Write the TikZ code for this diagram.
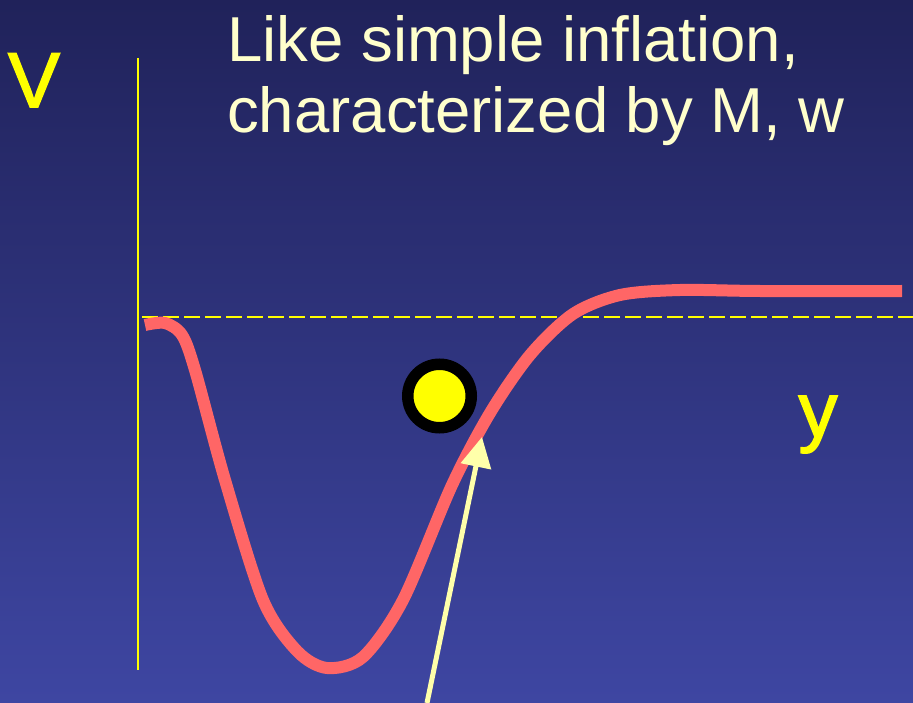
\documentclass[tikz,border=0pt]{standalone}
\usepackage{fontspec}
\setmainfont{Liberation Sans}
\newfontfamily\axislabelfont[FakeBold=2]{Liberation Sans}
\usetikzlibrary{arrows.meta}
\definecolor{bgtop}{HTML}{20225A}
\definecolor{bgbot}{HTML}{3E46A2}
\definecolor{axisyellow}{HTML}{FFFF00}
\definecolor{titleyellow}{HTML}{FFFFCC}
\definecolor{curvered}{HTML}{FF6666}
\definecolor{arrowyellow}{HTML}{FFFFAA}
\tikzset{
  titletext/.style={anchor=base west, inner sep=0pt, text=titleyellow, font=\fontsize{63.5}{71}\selectfont},
  axislabel/.style={anchor=base, inner sep=0pt, text=axisyellow, font=\axislabelfont\fontsize{78}{78}\selectfont},
  axisline/.style={draw=axisyellow, line width=2pt},
  levelline/.style={draw=axisyellow, line width=2pt, dash pattern=on 16pt off 5pt},
  potential/.style={draw=curvered, line width=12pt, line join=round},
  ball/.style={circle, draw=black, fill=axisyellow, line width=11.5pt, minimum size=63.5pt, inner sep=0pt},
  pointer/.style={draw=arrowyellow, line width=5pt, -{Triangle[length=30pt,width=30pt]}}
}
\begin{document}
\begin{tikzpicture}[x=1pt,y=-1pt]
\useasboundingbox (0,0) rectangle (913,703);
\shade[top color=bgtop, bottom color=bgbot] (0,0) rectangle (913,703);
% axis
\coordinate (axtop) at (138,58);
\coordinate (axbot) at (138,670);
\draw[axisline] (axtop) -- (axbot);
\coordinate (dashl) at (142,317);
\coordinate (dashr) at (913,317);
\draw[levelline] (dashl) -- (dashr);
% labels
\node[axislabel] (vlab) at (34,107) {V};
\node[axislabel] (ylab) at (818,437) {y};
\node[titletext] (t1) at (227,62) {Like simple inflation,};
\node[titletext] (t2) at (227,133) {characterized by M, w};
% potential curve
\draw[potential] plot[smooth, tension=0.5] coordinates {
 (145,325) (165,323) (182,335) (195,370) (225,480) (263,600) (297,651) (327,668)
 (363,657) (403,600) (452,485) (490,413) (530,355) (573,314) (620,295)
 (680,290) (760,291) (902,291)};
% ball
\node[ball] (ballnode) at (439.5,396) {};
% arrow
\coordinate (arrfrom) at (427,703);
\coordinate (arrto) at (482,437);
\draw[pointer] (arrfrom) -- (arrto);
\end{tikzpicture}
\end{document}
